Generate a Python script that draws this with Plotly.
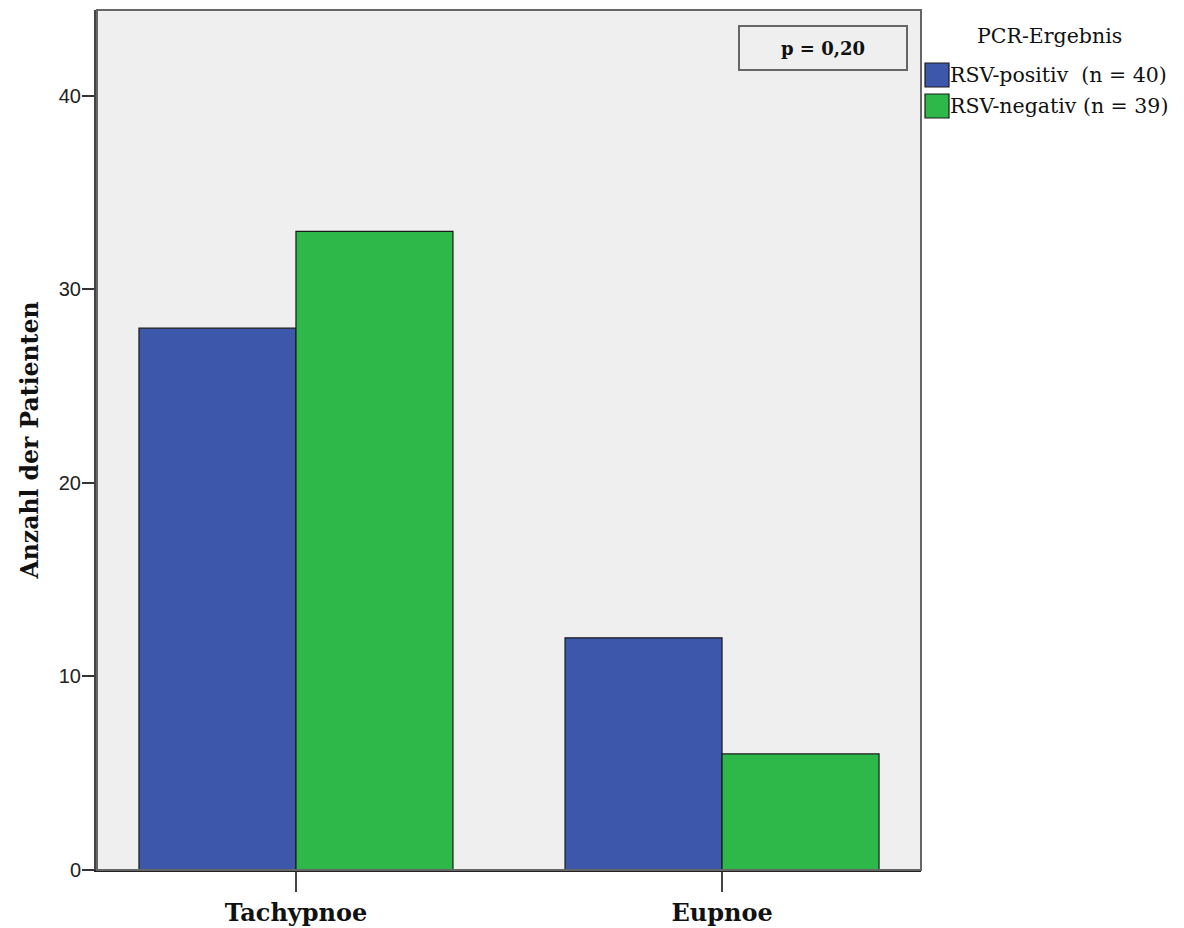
import plotly.graph_objects as go

categories = ["Tachypnoe", "Eupnoe"]
series_names = ["RSV-positiv  (n = 40)", "RSV-negativ (n = 39)"]
rsv_pos = [28, 12]
rsv_neg = [33, 6]
y_ticks = [0, 10, 20, 30, 40]
legend_title = "PCR-Ergebnis"
p_text = "<b>p = 0,20</b>"
y_title = "<b>Anzahl der Patienten</b>"

colors = ["#3d57aa", "#2eb84a"]
serif = "DejaVu Serif, serif"
sans = "Liberation Sans, Arial, sans-serif"

# page offset (body margin of 8px) compensation
OX, OY = 8, 8
W, H = 1176, 920
PL, PT, PR, PB = 97, 10, 921, 870  # plot area in screen pixels
pw, ph = PR - PL, PB - PT


def px(x):
    return (x - PL) / pw


def py(y):
    return (PB - y) / ph


fig = go.Figure()
for name, vals, col in zip(series_names, [rsv_pos, rsv_neg], colors):
    fig.add_trace(go.Bar(
        x=categories, y=vals, name=name,
        marker=dict(color=col, line=dict(color="#1a1a1a", width=1.2)),
        showlegend=False,
    ))

fig.update_layout(
    width=W, height=H,
    margin=dict(l=PL - OX, r=W - (PR - OX), t=PT - OY, b=H - (PB - OY)),
    paper_bgcolor="white",
    plot_bgcolor="#efefef",
    barmode="group",
    bargap=0.263,
    bargroupgap=0,
    xaxis=dict(
        range=[-0.467, 1.467],
        showline=True, linecolor="#222", linewidth=2, mirror=False,
        ticks="outside", ticklen=20, tickwidth=2, tickcolor="#444",
        tickfont=dict(family=serif, size=24, color="#111"),
        tickvals=categories,
        ticktext=["<b>" + c + "</b>" for c in categories],
        showgrid=False,
    ),
    yaxis=dict(
        range=[0, 44.44],
        tickvals=y_ticks,
        showline=True, linecolor="#444", linewidth=3,
        ticks="outside", ticklen=12, tickwidth=2, tickcolor="#333",
        tickfont=dict(family=sans, size=20, color="#222"),
        ticklabelstandoff=-3,
        showgrid=False, zeroline=False,
        title=dict(text=y_title, font=dict(family=serif, size=23.5, color="#111"), standoff=14),
    ),
)

# plot frame (top and right)
fig.add_shape(type="rect", xref="paper", yref="paper", x0=0, y0=0, x1=1, y1=1,
              line=dict(color="#666", width=2), layer="above")

# p-value box
fig.add_annotation(
    xref="paper", yref="paper", x=px(823), y=py(48),
    xanchor="center", yanchor="middle",
    text=p_text, showarrow=False,
    font=dict(family=serif, size=18, color="#111"),
    bordercolor="#666", borderwidth=2, bgcolor="#efefef",
    width=164, height=40, align="center",
)

# manual legend
fig.add_annotation(
    xref="paper", yref="paper", x=px(1049), y=py(36),
    text=legend_title, showarrow=False, xanchor="center", yanchor="middle",
    font=dict(family=serif, size=20.5, color="#111"),
)
for i, (name, col) in enumerate(zip(series_names, colors)):
    yc = 75 + i * 31
    fig.add_shape(type="rect", xref="paper", yref="paper",
                  x0=px(925), x1=px(949),
                  y0=py(yc + 12), y1=py(yc - 12),
                  fillcolor=col, line=dict(color="#1a1a1a", width=1.2))
    fig.add_annotation(
        xref="paper", yref="paper", x=px(948), y=py(yc),
        text=name, showarrow=False, xanchor="left", yanchor="middle",
        font=dict(family=serif, size=20.5, color="#111"),
    )

fig.write_html("out.html")
